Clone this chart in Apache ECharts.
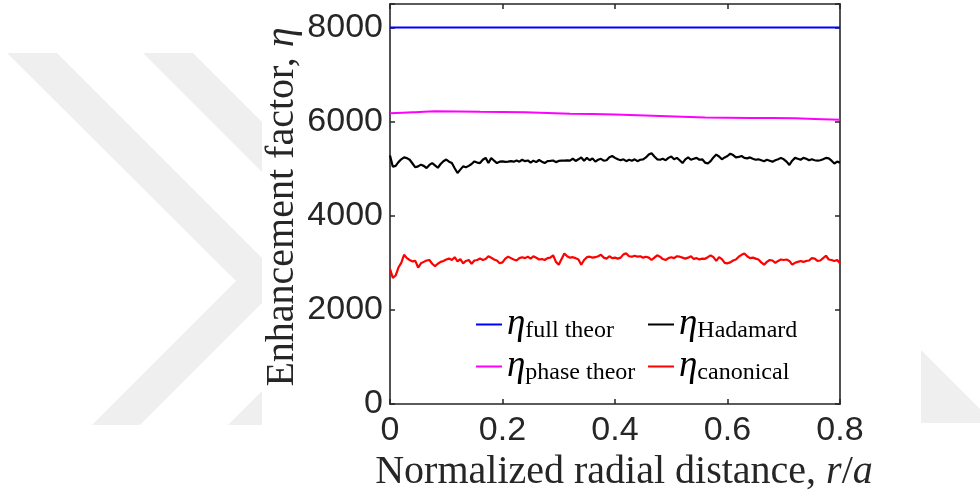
<!DOCTYPE html>
<html>
<head>
<meta charset="utf-8">
<script src="https://cdn.jsdelivr.net/npm/echarts@6/dist/echarts.min.js"></script>
<style>html,body{margin:0;padding:0;background:#fff;}#c{width:980px;height:499px;}</style>
</head>
<body>
<div id="c"></div>
<script>
// ---- data ----
const xTicks = [0, 0.2, 0.4, 0.6, 0.8];
const yTicks = [0, 2000, 4000, 6000, 8000];
const fullTheorR = [0, 0.8];
const fullTheorEta = [8000, 8000];
const phaseTheorR = [0, 0.04, 0.08, 0.16, 0.24, 0.32, 0.40, 0.48, 0.56, 0.64, 0.72, 0.80];
const phaseTheorEta = [6180, 6200, 6220, 6210, 6200, 6170, 6150, 6120, 6090, 6080, 6070, 6040];
const sampleStep = 0.005; // spacing of the measured samples in r/a
const hadamardEta = [
5280,5040,5060,5140,5200,5240,5225,5190,5110,5030,5050,5086,5060,5015,5080,5120,5070,5020,5100,5160,
5195,5150,5120,5010,4910,4980,5050,5030,5060,5100,5155,5130,5120,5190,5230,5120,5228,5170,5120,5150,
5155,5145,5150,5160,5150,5175,5150,5190,5160,5175,5130,5170,5140,5185,5150,5120,5160,5165,5175,5140,
5165,5170,5170,5175,5170,5215,5165,5200,5240,5170,5230,5180,5220,5150,5190,5210,5170,5180,5245,
5270,5230,5200,5180,5200,5160,5190,5170,5200,5160,5190,5200,5240,5300,5330,5260,5200,5190,5210,5180,
5230,5260,5200,5230,5180,5120,5200,5240,5190,5210,5230,5190,5200,5130,5110,5160,5240,5300,5260,5200,
5240,5270,5320,5290,5240,5250,5270,5230,5220,5240,5210,5190,5200,5180,5160,5190,5170,5150,5180,5200,
5230,5200,5150,5080,5170,5230,5210,5190,5230,5210,5180,5200,5180,5170,5180,5200,5230,5220,5170,5110,
5150,5130];
const canonicalEta = [
2870,2680,2730,2900,3000,3170,3100,3060,3030,3040,2900,2990,3020,3050,3060,2980,2930,2980,3020,3040,
3070,3090,3060,3120,3030,3080,2990,3040,3060,2980,3050,3060,3090,3060,3080,3140,3110,3070,3050,2990,
3010,3090,3130,3100,3070,3050,3100,3120,3100,3130,3090,3140,3110,3070,3080,3060,3100,3110,3160,3020,
2960,3080,3200,3140,3110,3120,3100,3070,2960,3060,3120,3130,3110,3120,3140,3170,3110,3090,3140,
3100,3110,3090,3110,3180,3200,3140,3130,3150,3130,3140,3110,3130,3110,3060,3110,3160,3130,3080,3060,
3100,3120,3100,3140,3130,3110,3090,3110,3140,3080,3100,3070,3090,3085,3120,3160,3120,3040,3120,3080,
3000,2990,3010,3050,3070,3130,3170,3200,3140,3100,3110,3090,3070,3010,2960,3020,3060,3050,3000,3040,
3070,3060,3070,3040,2960,3000,3020,3040,3020,3040,3050,3100,3090,3040,3050,3100,3150,3070,3060,3040,
3060,2990];
const seriesNames = ['full theor', 'Hadamard', 'phase theor', 'canonical'];
const xName = 'Normalized radial distance, ';
const yName = 'Enhancement factor, ';

// ---- build ----
const pairs = (xs, ys) => ys.map((v, i) => [xs[i], v]);
const sampled = ys => ys.map((v, i) => [+(i * sampleStep).toFixed(4), v]);
const AX = '#262626';
const serif = 'Liberation Serif';
const sans = 'Liberation Sans';

const chart = echarts.init(document.getElementById('c'), null, {renderer: 'canvas'});

const axisCommon = {
  axisLine: {show: true, onZero: false, lineStyle: {color: AX, width: 1.6}},
  axisTick: {show: true, inside: true, length: 5, lineStyle: {color: AX, width: 1.5}},
  splitLine: {show: false}
};

const legendRich = {
  e: {fontFamily: serif, fontStyle: 'italic', fontSize: 37, color: '#000', lineHeight: 40},
  s: {fontFamily: serif, fontSize: 24, color: '#000', lineHeight: 28, padding: [12, 0, 0, 0]}
};
const legendCommon = {
  orient: 'vertical', top: 306, padding: 0, itemGap: 5, itemWidth: 26, itemHeight: 2,
  icon: 'rect', selectedMode: false,
  formatter: n => '{e|η}{s|' + n + '}',
  textStyle: {rich: legendRich}
};

const wm = '#efefef';
chart.setOption({
  animation: false,
  backgroundColor: '#fff',
  graphic: [
    {type: 'polygon', silent: true, z: -10, shape: {points: [[7,53],[57,53],[262,258],[262,303],[140,425],[92,425],[236,281]]}, style: {fill: wm}},
    {type: 'polygon', silent: true, z: -10, shape: {points: [[143,53],[193,53],[262,122],[262,172]]}, style: {fill: wm}},
    {type: 'polygon', silent: true, z: -10, shape: {points: [[262,391],[262,425],[228,425]]}, style: {fill: wm}},
    {type: 'polygon', silent: true, z: -10, shape: {points: [[921,350],[980,409],[980,423],[921,423]]}, style: {fill: wm}}
  ],
  grid: {left: 390, right: 140, top: 4, bottom: 95, containLabel: false},
  xAxis: [
    Object.assign({}, axisCommon, {
      type: 'value', min: 0, max: 0.8, interval: 0.2, position: 'bottom',
      axisLabel: {show: true, margin: 10, color: AX, fontFamily: sans, fontSize: 34,
        formatter: v => v === 0 ? '0' : v.toFixed(1)},
      name: '{n|' + xName + '}{i|r}{n|/}{i|a}', nameLocation: 'middle', nameGap: 48,
      nameTextStyle: {padding: [0, 0, 0, 18], rich: {
        n: {fontFamily: serif, fontSize: 40, color: AX},
        i: {fontFamily: serif, fontStyle: 'italic', fontSize: 40, color: AX}
      }}
    }),
    Object.assign({}, axisCommon, {
      type: 'value', min: 0, max: 0.8, interval: 0.2, position: 'top',
      axisLabel: {show: false}
    })
  ],
  yAxis: [
    Object.assign({}, axisCommon, {
      type: 'value', min: 0, max: 8500, interval: 2000, position: 'left',
      axisLabel: {show: true, margin: 7, color: AX, fontFamily: sans, fontSize: 34,
        formatter: v => yTicks.indexOf(v) >= 0 ? String(v) : ''},
      name: '{n|' + yName + '}{i|η}', nameLocation: 'middle', nameGap: 88,
      nameTextStyle: {padding: [0, 6, 0, 0], rich: {
        n: {fontFamily: serif, fontSize: 40, color: AX},
        i: {fontFamily: serif, fontStyle: 'italic', fontSize: 40, color: AX}
      }}
    }),
    Object.assign({}, axisCommon, {
      type: 'value', min: 0, max: 8500, interval: 2000, position: 'right',
      axisLabel: {show: false}
    })
  ],
  legend: [
    Object.assign({}, legendCommon, {left: 476, data: [seriesNames[0], seriesNames[2]]}),
    Object.assign({}, legendCommon, {left: 648, data: [seriesNames[1], seriesNames[3]]})
  ],
  series: [
    {name: seriesNames[0], type: 'line', data: pairs(fullTheorR, fullTheorEta), symbol: 'none', lineStyle: {color: '#0000ff', width: 2}, itemStyle: {color: '#0000ff'}},
    {name: seriesNames[2], type: 'line', data: pairs(phaseTheorR, phaseTheorEta), symbol: 'none', smooth: 0.3, lineStyle: {color: '#ff00ff', width: 2}, itemStyle: {color: '#ff00ff'}},
    {name: seriesNames[1], type: 'line', data: sampled(hadamardEta), symbol: 'none', lineStyle: {color: '#000000', width: 2.2}, itemStyle: {color: '#000000'}},
    {name: seriesNames[3], type: 'line', data: sampled(canonicalEta), symbol: 'none', lineStyle: {color: '#ff0000', width: 2.2}, itemStyle: {color: '#ff0000'}}
  ]
});
</script>
</body>
</html>
